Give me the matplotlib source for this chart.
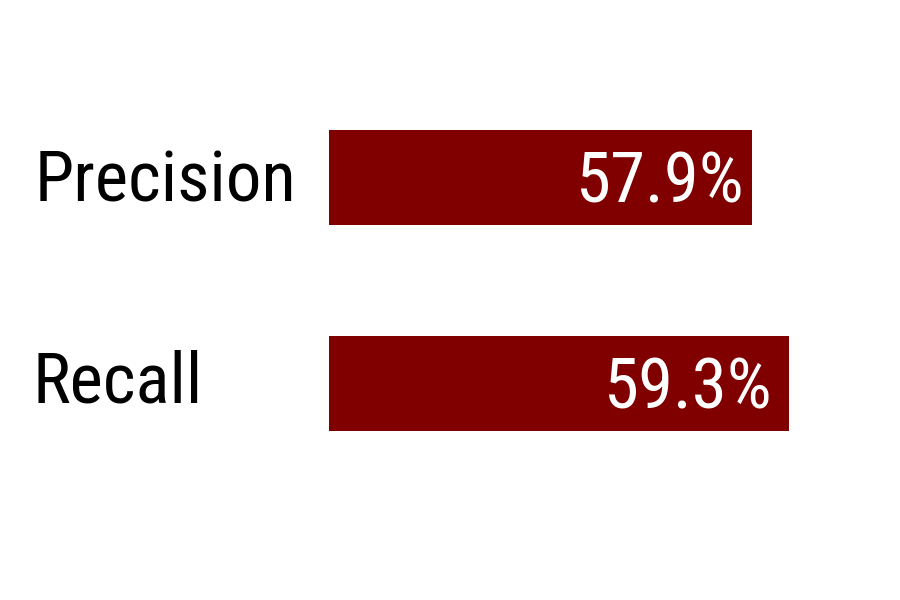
import numpy as np
import matplotlib
matplotlib.use("Agg")
import matplotlib.pyplot as plt
from matplotlib import font_manager
from matplotlib.transforms import blended_transform_factory

metrics = ["Precision", "Recall"]
values = [57.9, 59.3]
value_labels = ["57.9%", "59.3%"]

bar_color = "#800000"
x_start = 41.9          # axis start (bars begin at left edge)
px_per_unit = 26.44

names = sorted({f.name for f in font_manager.fontManager.ttflist})
family = "Roboto Condensed" if "Roboto Condensed" in names else "Roboto"
plt.rcParams["font.family"] = [family, "DejaVu Sans"]

fig = plt.figure(figsize=(9, 6), dpi=100)
left_px, right_px = 329, 890
ax = fig.add_axes([left_px / 900, 0, (right_px - left_px) / 900, 1])
ax.set_xlim(x_start, x_start + (right_px - left_px) / px_per_unit)
ax.set_ylim(2.051, -0.862)

y = np.arange(len(metrics))
ax.barh(y, values, height=0.461, left=0, color=bar_color)

for yi, v, lab in zip(y, values, value_labels):
    ax.text(x_start + 0.78 * (v - x_start), yi + 0.12, lab, ha="center",
            va="baseline", color="white", fontsize=51)

# category labels sit a touch higher on the lower row
label_dy = [0.115, 0.09]
label_x = [35, 32]
trans = blended_transform_factory(fig.transFigure, ax.transData)
for yi, name, dy, lx in zip(y, metrics, label_dy, label_x):
    ax.text(lx / 900, yi + dy, name, transform=trans, ha="left",
            va="baseline", color="black", fontsize=51)

ax.axis("off")
fig.savefig("out.png", dpi=100, facecolor="white")
